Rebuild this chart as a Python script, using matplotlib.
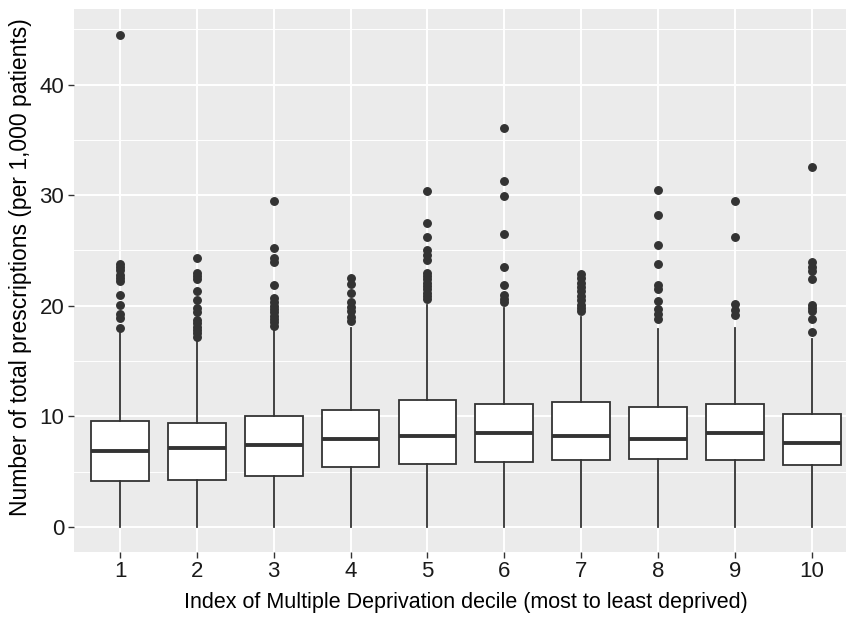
"""Boxplots of total prescriptions per 1,000 patients by IMD decile."""

import matplotlib
matplotlib.use("Agg")
import matplotlib.pyplot as plt
from matplotlib.ticker import MultipleLocator

# Deciles (1 = most deprived)
deciles = [1, 2, 3, 4, 5, 6, 7, 8, 9, 10]

# Box summaries per decile
q1 = [4.13, 4.28, 4.64, 5.45, 5.72, 5.88, 6.03, 6.15, 6.03, 5.61]
medians = [6.90, 7.14, 7.41, 7.96, 8.23, 8.50, 8.26, 7.96, 8.53, 7.59]
q3 = [9.61, 9.38, 10.04, 10.58, 11.51, 11.12, 11.27, 10.85, 11.12, 10.19]
whisker_low = [0, 0, 0, 0, 0, 0, 0, 0, 0, 0]
whisker_high = [17.5, 16.9, 17.8, 18.0, 20.1, 19.8, 19.0, 17.9, 18.0, 17.0]

# Outlying practices per decile
outliers_1 = [44.5, 23.8, 23.5, 23.2, 22.8, 22.5, 22.2, 21.0, 20.1, 19.3, 18.9, 17.95]
outliers_2 = [24.3, 23.0, 22.7, 22.4, 21.3, 20.5, 19.8, 19.4, 18.7, 18.4, 18.1, 17.8, 17.5, 17.2]
outliers_3 = [29.5, 25.2, 24.3, 24.0, 21.9, 20.7, 20.3, 20.0, 19.7, 19.4, 19.1, 18.8, 18.5, 18.2]
outliers_4 = [22.5, 22.0, 21.2, 20.3, 19.9, 19.5, 19.0, 18.6]
outliers_5 = [30.4, 27.5, 26.2, 25.0, 24.6, 24.1, 23.0, 22.7, 22.4, 22.1, 21.8, 21.5, 21.2, 20.9, 20.6]
outliers_6 = [36.1, 31.3, 29.9, 26.5, 23.5, 21.9, 21.0, 20.6, 20.3]
outliers_7 = [22.9, 22.5, 22.1, 21.7, 21.3, 20.9, 20.5, 20.1, 19.8, 19.5]
outliers_8 = [30.5, 28.2, 25.5, 23.8, 21.9, 21.5, 20.4, 19.7, 19.3, 18.8]
outliers_9 = [29.5, 26.2, 20.2, 19.6, 19.2]
outliers_10 = [32.5, 24.0, 23.5, 23.1, 22.4, 20.1, 19.8, 19.5, 18.8, 17.6]
outliers = [outliers_1, outliers_2, outliers_3, outliers_4, outliers_5,
            outliers_6, outliers_7, outliers_8, outliers_9, outliers_10]

y_ticks = [0, 10, 20, 30, 40]

x_title = "Index of Multiple Deprivation decile (most to least deprived)"
y_title = "Number of total prescriptions (per 1,000 patients)"


def box_stats():
	"""Build the summary dicts that Axes.bxp expects."""
	stats = []
	for i, d in enumerate(deciles):
		stats.append({
			"label": str(d),
			"q1": q1[i],
			"med": medians[i],
			"q3": q3[i],
			"whislo": whisker_low[i],
			"whishi": whisker_high[i],
			"fliers": outliers[i],
		})
	return stats


plt.rcParams["font.family"] = ["Liberation Sans", "DejaVu Sans"]

fig = plt.figure(figsize=(8.46, 6.19), dpi=100)
ax = fig.add_axes([0.0874, 0.1087, 0.9266, 0.8763])
ax.set_facecolor("#EBEBEB")

line_col = "#333333"
ax.bxp(box_stats(), positions=deciles, widths=0.75, patch_artist=True,
       showcaps=False,
       boxprops=dict(facecolor="white", edgecolor=line_col, linewidth=1.3),
       medianprops=dict(color=line_col, linewidth=2.8, solid_capstyle="butt"),
       whiskerprops=dict(color=line_col, linewidth=1.3),
       flierprops=dict(marker="o", markersize=5.4, markerfacecolor=line_col,
                       markeredgecolor=line_col, linestyle="none"),
       zorder=3)

ax.set_xlim(0.4, 10.6)
ax.set_ylim(-2.23, 46.8)
ax.set_yticks(y_ticks)
ax.yaxis.set_minor_locator(MultipleLocator(5))
ax.set_xticks(deciles)
ax.set_xticklabels([str(d) for d in deciles])

# ggplot-like grid: white major lines, thinner minor lines on y
ax.grid(which="major", color="white", linewidth=1.4, zorder=0)
ax.grid(which="minor", axis="y", color="white", linewidth=0.7, zorder=0)
ax.set_axisbelow(True)
for s in ax.spines.values():
	s.set_visible(False)

ax.tick_params(axis="both", which="major", length=4, width=1.0, color=line_col,
               labelsize=16, labelcolor="#1a1a1a", pad=3)
ax.tick_params(axis="y", which="minor", length=0)

ax.set_xlabel(x_title, fontsize=15.5, color="black", labelpad=7)
ax.set_ylabel(y_title, fontsize=16.5, color="black")
ax.yaxis.set_label_coords(-0.054, 0.525)

fig.savefig("out.png", dpi=100)
